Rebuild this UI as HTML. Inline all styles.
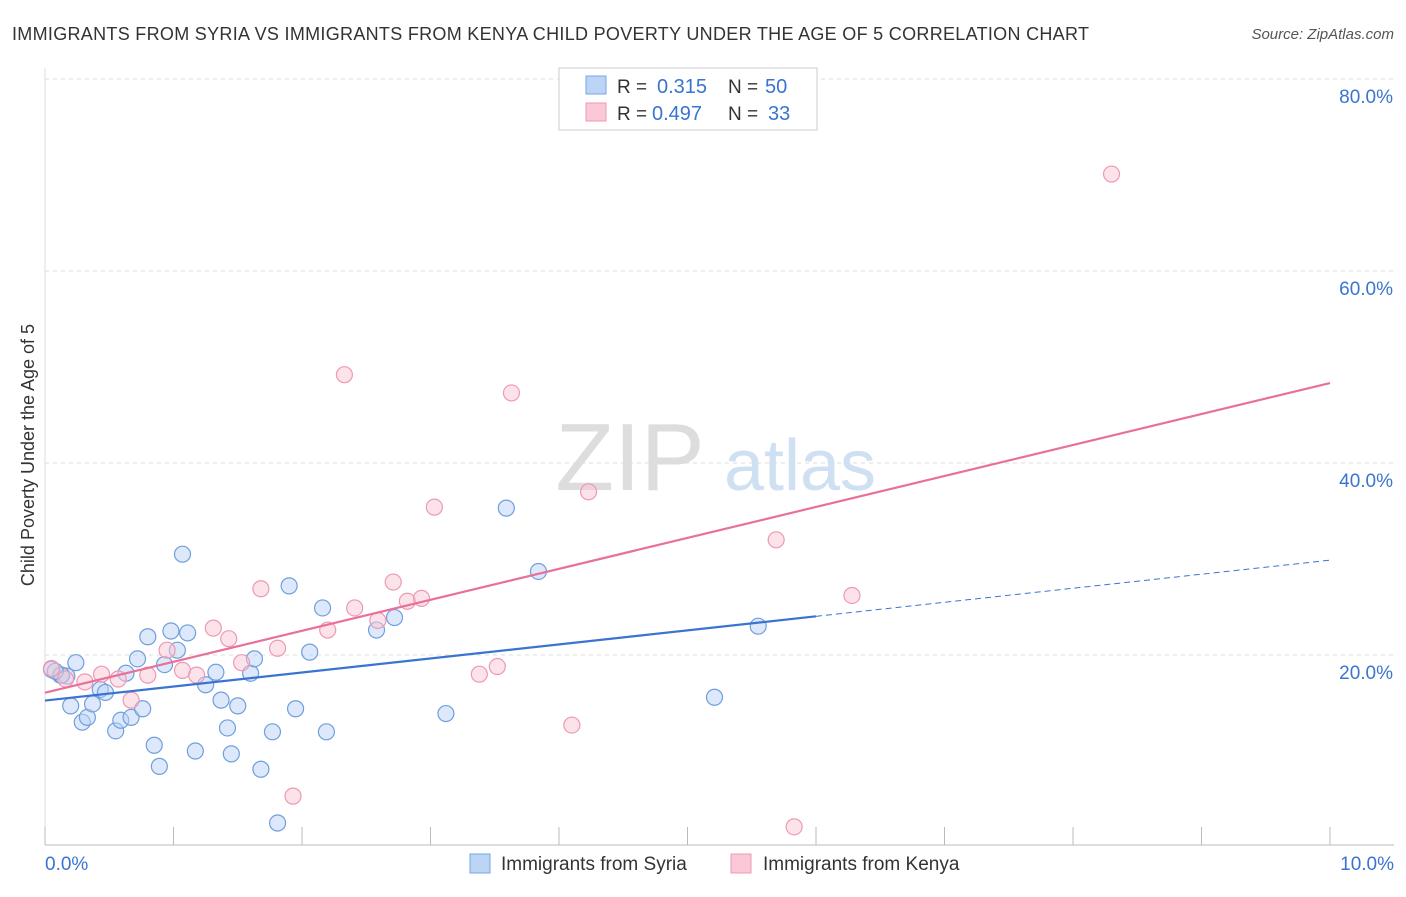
<!DOCTYPE html>
<html><head><meta charset="utf-8"><style>
body{margin:0;background:#fff;font-family:"Liberation Sans",sans-serif;}
svg text{font-family:"Liberation Sans",sans-serif;}
</style></head><body>
<svg width="1406" height="892">
<text x="12" y="40" font-size="18" fill="#333" letter-spacing="0.3">IMMIGRANTS FROM SYRIA VS IMMIGRANTS FROM KENYA CHILD POVERTY UNDER THE AGE OF 5 CORRELATION CHART</text>
<text x="1394" y="39" font-size="15" fill="#555" font-style="italic" text-anchor="end">Source: ZipAtlas.com</text>
<g id="grid"></g>
<text x="630" y="490" font-size="96" fill="#ddd" font-family="Liberation Serif" text-anchor="middle">ZIP</text>
<text x="800" y="490" font-size="72" fill="#cfe0f3" text-anchor="middle">atlas</text>
<text x="34" y="455" font-size="18" fill="#333" text-anchor="middle" transform="rotate(-90 34 455)">Child Poverty Under the Age of 5</text>
<g id="marks"></g>
<g>
<rect x="559" y="68" width="258" height="62" fill="#fff" stroke="#ccc"/>
<rect x="586" y="76" width="20" height="18" fill="#bcd4f5" stroke="#7aa6e0"/>
<rect x="586" y="103" width="20" height="18" fill="#fac8d6" stroke="#ec9ab3"/>
<text x="617" y="93" font-size="19" fill="#333">R =</text>
<text x="657" y="93" font-size="20" fill="#3a74d0">0.315</text>
<text x="728" y="93" font-size="19" fill="#333">N =</text>
<text x="765" y="93" font-size="20" fill="#3a74d0">50</text>
<text x="617" y="120" font-size="19" fill="#333">R =</text>
<text x="652" y="120" font-size="20" fill="#3a74d0">0.497</text>
<text x="728" y="120" font-size="19" fill="#333">N =</text>
<text x="768" y="120" font-size="20" fill="#3a74d0">33</text>
</g>
<g>
<rect x="470" y="854" width="20" height="19" fill="#bcd4f5" stroke="#7aa6e0"/>
<text x="501" y="870" font-size="19" fill="#333">Immigrants from Syria</text>
<rect x="731" y="854" width="20" height="19" fill="#fac8d6" stroke="#ec9ab3"/>
<text x="763" y="870" font-size="19" fill="#333">Immigrants from Kenya</text>
</g>
</svg>
<script>
const xTicks=[0,1,2,3,4,5,6,7,8,9,10];
const yTicks=[20,40,60,80];
const syriaX=[0.05,0.12,0.17,0.24,0.2,0.29,0.33,0.37,0.43,0.47,0.55,0.59,0.63,0.67,0.72,0.76,0.8,0.85,0.89,0.93,0.98,1.03,1.07,1.11,1.17,1.25,1.33,1.37,1.42,1.45,1.5,1.6,1.63,1.68,1.77,1.81,1.9,1.95,2.06,2.16,2.19,2.58,2.72,3.12,3.59,3.84,5.21,5.55,0.13,0.08];
const syriaY=[18.5,17.9,17.8,19.2,14.7,13.0,13.5,14.9,16.4,16.1,12.1,13.2,18.1,13.5,19.6,14.4,21.9,10.6,8.4,19.0,22.5,20.5,30.5,22.3,10.0,16.9,18.2,15.3,12.4,9.7,14.7,18.1,19.6,8.1,12.0,2.5,27.2,14.4,20.3,24.9,12.0,22.6,23.9,13.9,35.3,28.7,15.6,23.0,17.9,18.3];
const kenyaX=[0.05,0.16,0.31,0.44,0.57,0.67,0.8,0.95,1.07,1.18,1.31,1.43,1.53,1.68,1.81,1.93,2.2,2.33,2.41,2.59,2.71,2.82,2.93,3.03,3.38,3.52,3.63,4.1,4.23,5.69,5.83,6.28,8.3];
const kenyaY=[18.6,17.5,17.2,18.0,17.5,15.3,17.9,20.5,18.4,17.9,22.8,21.7,19.2,26.9,20.7,5.3,22.6,49.2,24.9,23.6,27.6,25.6,25.9,35.4,18.0,18.8,47.3,12.7,37.0,32.0,2.1,26.2,70.1];
const solidEndSyria=6.0;
const X=v=>45+v*128.5, Y=v=>847-v*9.6;
const NS="http://www.w3.org/2000/svg";
function mk(tag,attrs,parent){const e=document.createElementNS(NS,tag);for(const k in attrs)e.setAttribute(k,attrs[k]);parent.appendChild(e);return e;}
const grid=document.getElementById('grid'),marks=document.getElementById('marks');
yTicks.forEach(t=>{
 const l=mk('line',{x1:45,x2:1394,y1:Y(t),y2:Y(t),stroke:'#ddd','stroke-dasharray':'4,4'},grid);
 
 
 const tx=mk('text',{x:1393,y:Y(t)+24,'font-size':19,fill:'#3a74d0','text-anchor':'end'},grid);
 tx.textContent=t.toFixed(1)+'%';
 
 
});
const ax=mk('line',{x1:45,x2:1394,y1:845,y2:845,stroke:'#bbb'},grid);


const ay=mk('line',{x1:45,x2:45,y1:68,y2:845,stroke:'#ddd'},grid);


xTicks.forEach(t=>{
 const l=mk('line',{x1:X(t),x2:X(t),y1:827,y2:845,stroke:'#bbb'},grid);
 
 
});
[[0,'0.0%','start',45],[10,'10.0%','end',1394]].forEach(a=>{
 const tx=mk('text',{x:a[3],y:870,'font-size':19,fill:'#3a74d0','text-anchor':a[2]},grid);
 tx.textContent=a[1];
 
 
});
function pts(xs,ys,fill,stroke,name){xs.forEach((x,i)=>{
 const c=mk('circle',{cx:X(x),cy:Y(ys[i]),r:8,fill:fill,'fill-opacity':0.5,stroke:stroke,'stroke-width':1.2},marks);
 
 
});}
pts(syriaX,syriaY,'#bcd4f5','#6f9fdc','syria-point');
pts(kenyaX,kenyaY,'#fac8d6','#ec9ab3','kenya-point');
function fit(xs,ys){const n=xs.length;let mx=0,my=0;xs.forEach((x,i)=>{mx+=x;my+=ys[i];});mx/=n;my/=n;let sxy=0,sxx=0;xs.forEach((x,i)=>{sxy+=(x-mx)*(ys[i]-my);sxx+=(x-mx)**2;});const b=sxy/sxx;return [my-b*mx,b];}
const fs=fit(syriaX,syriaY),fk=fit(kenyaX,kenyaY);
let l=mk('line',{x1:X(0),y1:Y(fs[0]),x2:X(solidEndSyria),y2:Y(fs[0]+fs[1]*solidEndSyria),stroke:'#3a74d0','stroke-width':2.2},marks);


l=mk('line',{x1:X(solidEndSyria),y1:Y(fs[0]+fs[1]*solidEndSyria),x2:X(10),y2:Y(fs[0]+fs[1]*10),stroke:'#3a74d0','stroke-width':1,'stroke-dasharray':'6,4'},marks);


l=mk('line',{x1:X(0),y1:Y(fk[0]),x2:X(10),y2:Y(fk[0]+fk[1]*10),stroke:'#e8709a','stroke-width':2.2},marks);


</script>
</body></html>
